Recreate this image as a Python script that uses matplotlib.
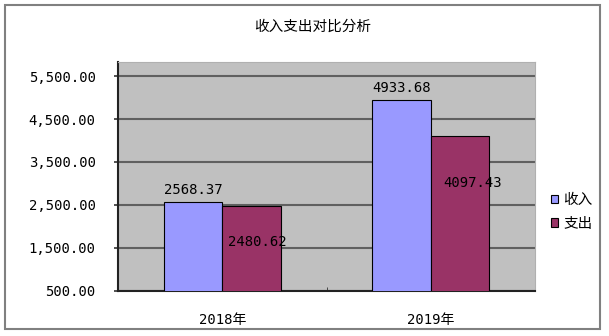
import matplotlib
matplotlib.use("Agg")
import matplotlib.pyplot as plt
from matplotlib.patches import Rectangle, Patch

# data
years = ["2018年", "2019年"]
income = [2568.37, 4933.68]
expense = [2480.62, 4097.43]
yticks = [500, 1500, 2500, 3500, 4500, 5500]

# where Excel dropped the expense labels (pixel offsets from bar top)
expense_label_offset = [(6, -36), (13, -47)]

cjk = ["Noto Sans CJK SC", "DejaVu Sans"]
mono = ["DejaVu Sans Mono", "Noto Sans CJK SC"]

fig = plt.figure(figsize=(6.09, 3.36), dpi=100)
fig.patch.set_facecolor("white")

# outer chart border
fig.patches.append(Rectangle((5 / 609, 1 - 329 / 336), 595 / 609, 324 / 336,
                             transform=fig.transFigure, fill=False,
                             edgecolor="#808080", linewidth=1.5))

ax = fig.add_axes([118 / 609, 1 - 290.5 / 336, 417 / 609, 228.5 / 336])
ax.set_facecolor("#C0C0C0")

x = range(len(years))
w = 0.28
ax.bar([i - w / 2 for i in x], income, width=w, color="#9999FF",
       edgecolor="black", linewidth=0.8, zorder=3, label="收入")
ax.bar([i + w / 2 for i in x], expense, width=w, color="#993366",
       edgecolor="black", linewidth=0.8, zorder=3, label="支出")

ax.set_ylim(500, 5830)
ax.set_xlim(-0.5, 1.5)
ax.set_yticks(yticks)
ax.set_yticklabels(["{:,.2f}".format(v) for v in yticks], family=mono, fontsize=10)
ax.yaxis.grid(True, color="#606060", linewidth=1.5, zorder=1)
ax.tick_params(axis="y", length=3, width=1.2, pad=13, color="#333333")

ax.set_xticks(list(x))
ax.set_xticklabels(years, family=mono, fontsize=10)
ax.set_xticks([0.5], minor=True)
ax.tick_params(axis="x", which="major", length=0, pad=16)
ax.tick_params(axis="x", which="minor", length=3, direction="in", color="#333333")

for s in ["top", "right"]:
    ax.spines[s].set_color("#B0B0B0")
    ax.spines[s].set_linewidth(0.8)
for s in ["left", "bottom"]:
    ax.spines[s].set_color("#222222")
    ax.spines[s].set_linewidth(1.5)

for i, v in enumerate(income):
    ax.annotate("{:.2f}".format(v), (i - w / 2, v), xytext=(0, 12 * 0.72),
                textcoords="offset points", ha="center", va="center",
                family=mono, fontsize=10)
for i, v in enumerate(expense):
    dx, dy = expense_label_offset[i]
    ax.annotate("{:.2f}".format(v), (i + w / 2, v), xytext=(dx * 0.72, dy * 0.72),
                textcoords="offset points", ha="center", va="center",
                family=mono, fontsize=10)

fig.text(313 / 609, 1 - 27 / 336, "收入支出对比分析", family=cjk, fontsize=10.5,
         ha="center", va="center")

handles = [Patch(facecolor="#9999FF", edgecolor="black", linewidth=0.8),
           Patch(facecolor="#993366", edgecolor="black", linewidth=0.8)]
fig.legend(handles, ["收入", "支出"], loc="center left",
           bbox_to_anchor=(551 / 609, 1 - 212 / 336), frameon=False,
           prop={"family": cjk, "size": 10.5}, handlelength=0.5, handleheight=0.5,
           handletextpad=0.35, labelspacing=0.65, borderpad=0, borderaxespad=0)

fig.savefig("out.png", dpi=100)
